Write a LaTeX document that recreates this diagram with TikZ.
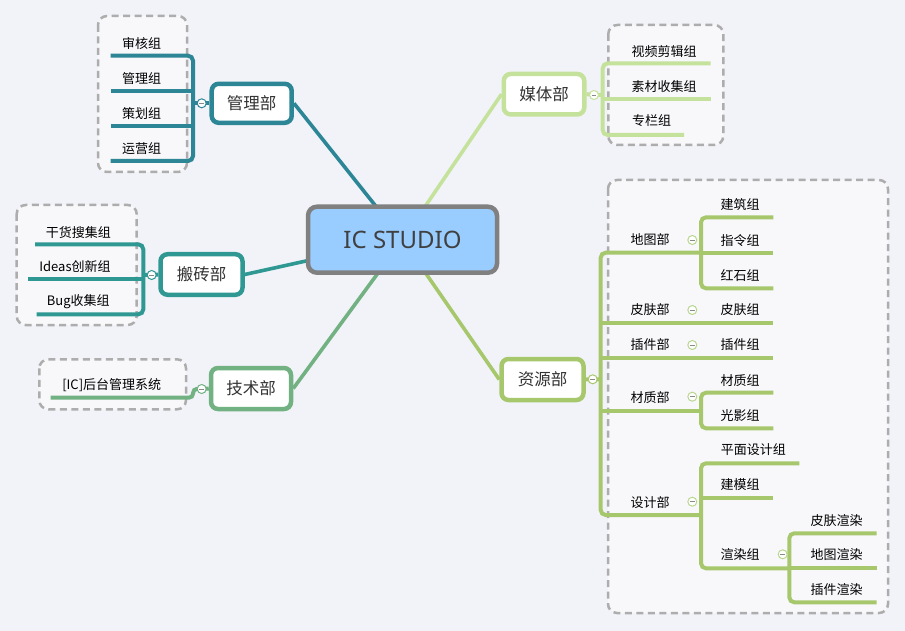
\documentclass[tikz,border=0pt]{standalone}
\usepackage{fontspec}
\setmainfont{Noto Sans CJK SC}
\newfontfamily\latinfont{Noto Sans}
\usetikzlibrary{calc}
\pgfdeclarelayer{bg}
\pgfdeclarelayer{lines}
\pgfsetlayers{bg,lines,main}
\definecolor{bgc}{HTML}{F2F3F8}
\definecolor{grpfill}{HTML}{F8F8FB}
\definecolor{dashc}{HTML}{ADADAD}
\definecolor{minusc}{HTML}{8A8A8A}
\definecolor{txt}{HTML}{333333}
\definecolor{ctxt}{HTML}{404040}
\definecolor{mg}{HTML}{2D8695}
\definecolor{bz}{HTML}{2F9893}
\definecolor{te}{HTML}{72B182}
\definecolor{me}{HTML}{C4E29B}
\definecolor{re}{HTML}{A7C76C}
\definecolor{retog}{HTML}{B9D68E}
\definecolor{cfill}{HTML}{99CCFF}
\definecolor{cborder}{HTML}{808080}
\tikzset{
  dept/.style={draw=#1, line width=4.5pt, rounded corners=7pt, fill=white,
    minimum width=80pt, minimum height=39pt, inner sep=0pt,
    font=\fontsize{16.5}{18}\selectfont, text=txt},
  leaf/.style={inner sep=0pt, font=\fontsize{13}{15}\selectfont, text=black},
  br/.style={draw=#1, line width=4pt, rounded corners=5pt},
  conn/.style={draw=#1, line width=3.6pt},
  grp/.style={draw=dashc, dash pattern=on 7pt off 4.5pt, line width=2.5pt,
    rounded corners=9pt, fill=grpfill},
  tog/.style={circle, draw=#1, fill=white, line width=1pt, minimum size=9pt,
    inner sep=0pt, path picture={\draw[line width=0.9pt, minusc]
      ([xshift=-2.4pt]path picture bounding box.center) --
      ([xshift=2.4pt]path picture bounding box.center);}},
}
\begin{document}
\begin{tikzpicture}[x=1pt,y=-1pt]
\begin{pgfonlayer}{bg}
\fill[bgc] (0,0) rectangle (905,631);
\useasboundingbox (0,0) rectangle (905,631);
% group frames
\path[grp] (98,16) rectangle (187,172);
\path[grp] (16.7,205) rectangle (136.7,325);
\path[grp] (39.3,359.3) rectangle (186,409.3);
\path[grp] (608.3,25) rectangle (723.3,145);
\path[grp] (608,180) rectangle (888,613);
\end{pgfonlayer}

% central topic
\node[draw=cborder, fill=cfill, line width=4.5pt, rounded corners=9pt,
  minimum width=189pt, minimum height=66pt, inner sep=0pt,
  font=\latinfont\fontsize{24}{28}\selectfont, text=ctxt]
  (c) at (402.5,239.7) {IC STUDIO};

% main topics
\node[dept=mg] (mgmt) at (251.7,103.3) {管理部};
\node[dept=bz, minimum width=82pt, minimum height=40.5pt] (bz) at (201.5,274.5) {搬砖部};
\node[dept=te, minimum height=41pt] (tech) at (251,388.5) {技术部};
\node[dept=me, minimum width=80.5pt, minimum height=40.5pt] (media) at (544,94.2) {媒体部};
\node[dept=re, minimum width=82pt, minimum height=41pt] (res) at (542.5,379.5) {资源部};

\begin{pgfonlayer}{lines}
\draw[conn=mg] (mgmt.east) -- (c.center);
\draw[conn=bz] (bz.east) -- (c.center);
\draw[conn=te] (tech.east) -- (c.center);
\draw[conn=me] (media.west) -- (c.center);
\draw[conn=re] (res.west) -- (c.center);
\end{pgfonlayer}

% ---------- 管理部 ----------
\draw[br=mg] (110.7,55.7) -- (193,55.7) -- (193,161) -- (110.7,161);
\draw[br=mg] (110.7,91) -- (193,91);
\draw[br=mg] (110.7,126) -- (193,126);
\draw[br=mg] (193,103.3) -- (mgmt.west);
\node[tog=mg] (tmg) at (201.7,103.3) {};
\node[leaf] (mg1) at (141.7,43.3) {审核组};
\node[leaf] (mg2) at (141.7,78.3) {管理组};
\node[leaf] (mg3) at (141.7,113.3) {策划组};
\node[leaf] (mg4) at (141.7,148.3) {运营组};

% ---------- 搬砖部 ----------
\draw[br=bz] (35,244.3) -- (143.3,244.3) -- (143.3,314.3) -- (36.7,314.3);
\draw[br=bz] (28.3,279.3) -- (143.3,279.3);
\draw[br=bz] (143.3,275) -- (bz.west);
\node[tog=bz] (tbz) at (151.7,275) {};
\node[leaf] (bz1) at (78.3,232.3) {干货搜集组};
\node[leaf] (bz2) at (75,267) {Ideas创新组};
\node[leaf] (bz3) at (78.3,301.5) {Bug收集组};

% ---------- 技术部 ----------
\draw[br=te, rounded corners=4pt] (tech.west) -- (193,389) -- (193,397.7) -- (50.7,397.7);
\node[tog=te] (tte) at (201.7,389) {};
\node[leaf] (te1) at (111.7,385) {[IC]后台管理系统};

% ---------- 媒体部 ----------
\draw[br=me] (710.7,63.3) -- (602.7,63.3) -- (602.7,135) -- (684,135);
\draw[br=me] (602.7,99) -- (710.7,99);
\draw[br=me] (media.east) -- (602.7,95);
\node[tog=me] (tme) at (594,95) {};
\node[leaf] (me1) at (664,51.7) {视频剪辑组};
\node[leaf] (me2) at (664,86.3) {素材收集组};
\node[leaf] (me3) at (651.7,121) {专栏组};

% ---------- 资源部 ----------
\draw[br=re] (701,252.7) -- (600.7,252.7) -- (600.7,515) -- (701,515);
\draw[br=re] (res.east) -- (600.7,379.3);
\node[tog=re] (tre) at (592.7,379.3) {};
% 地图部
\draw[br=re] (773.3,217.3) -- (701,217.3) -- (701,288.3) -- (773.3,288.3);
\draw[br=re] (701,252.7) -- (773.3,252.7);
% 皮肤部, 插件部
\draw[br=re] (600.7,323.3) -- (773.3,323.3);
\draw[br=re] (600.7,358.3) -- (773.3,358.3);
% 材质部
\draw[br=re] (600.7,410.7) -- (701,410.7);
\draw[br=re] (773.3,392.7) -- (701,392.7) -- (701,428.3) -- (773.3,428.3);
% 设计部
\draw[br=re] (799.3,463.3) -- (701,463.3) -- (701,568.3) -- (789.3,568.3);
\draw[br=re] (701,497.7) -- (773.3,497.7);
\draw[br=re] (876.7,533.3) -- (789.3,533.3) -- (789.3,602.3) -- (876.7,602.3);
\draw[br=re] (789.3,568.3) -- (876.7,568.3);

\node[leaf] (r1) at (650,240) {地图部};
\node[leaf] (r2) at (650,310) {皮肤部};
\node[leaf] (r3) at (650,345) {插件部};
\node[leaf] (r4) at (650,397.3) {材质部};
\node[leaf] (r5) at (650,502.3) {设计部};
\node[tog=retog] (tr1) at (692.3,240) {};
\node[tog=retog] (tr2) at (692.3,310) {};
\node[tog=retog] (tr3) at (692.3,345) {};
\node[tog=retog] (tr4) at (692.3,396.7) {};
\node[tog=retog] (tr5) at (692.3,501.7) {};
\node[tog=retog] (tr6) at (782.7,554.3) {};

\node[leaf] (r11) at (740,205) {建筑组};
\node[leaf] (r12) at (740,240.5) {指令组};
\node[leaf] (r13) at (740,276) {红石组};
\node[leaf] (r21) at (740,310) {皮肤组};
\node[leaf] (r31) at (740,345) {插件组};
\node[leaf] (r41) at (740,380.7) {材质组};
\node[leaf] (r42) at (740,415.7) {光影组};
\node[leaf] (r51) at (753.3,450) {平面设计组};
\node[leaf] (r52) at (740,485) {建模组};
\node[leaf] (r53) at (740,555) {渲染组};
\node[leaf] (r531) at (836.7,520.7) {皮肤渲染};
\node[leaf] (r532) at (836.7,555) {地图渲染};
\node[leaf] (r533) at (836.7,590) {插件渲染};
\end{tikzpicture}
\end{document}
